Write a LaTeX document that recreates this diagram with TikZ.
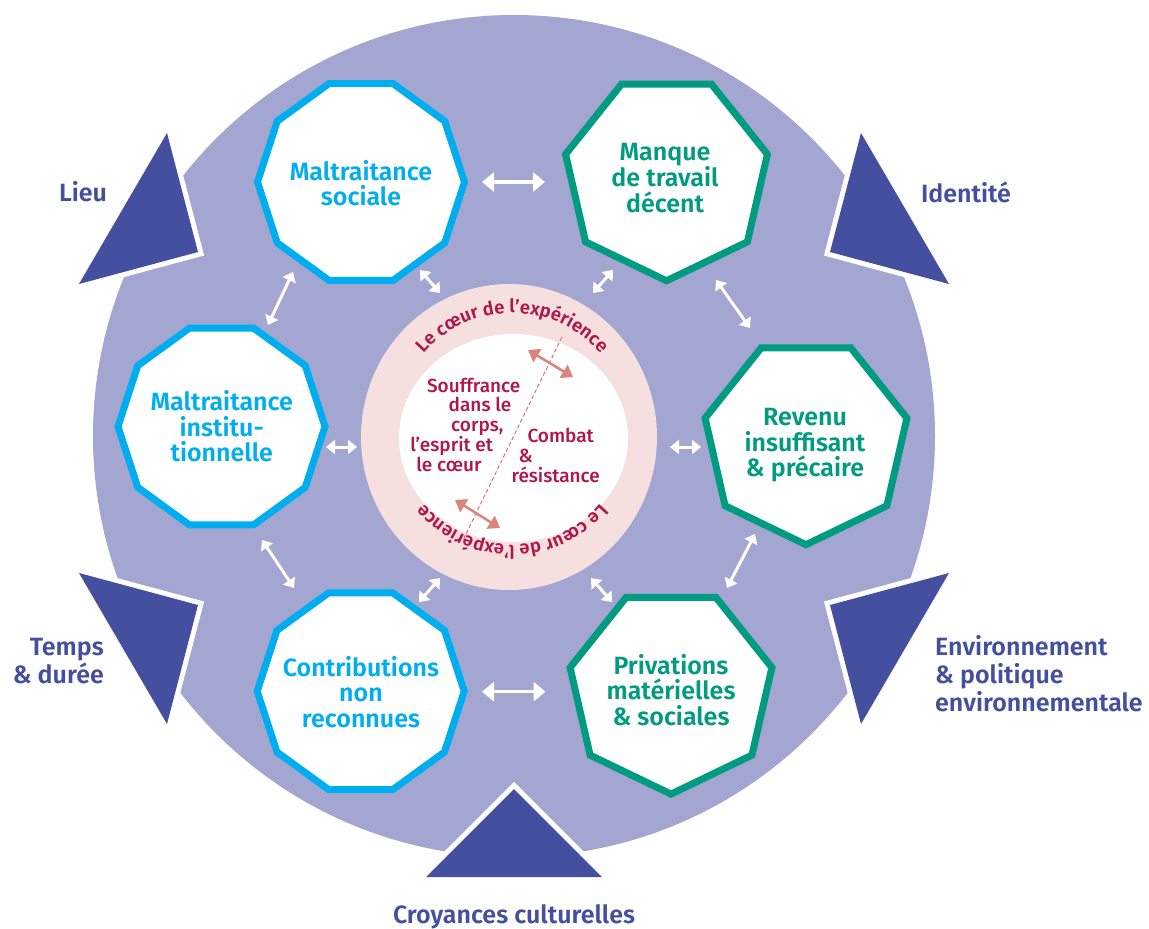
\documentclass[tikz,border=0pt]{standalone}
\usepackage{fontspec}
\setmainfont{Fira Sans}
\newfontfamily\fsb{Fira Sans SemiBold}
\newfontfamily\fmd{Fira Sans Medium}
\usetikzlibrary{calc,arrows.meta,decorations.text}
\definecolor{lav}{HTML}{A2A6D1}
\definecolor{triblue}{HTML}{444F9F}
\definecolor{cyanc}{HTML}{00AEEF}
\definecolor{greenc}{HTML}{009B80}
\definecolor{pinkring}{HTML}{F5E0DF}
\definecolor{crimson}{HTML}{B1154A}
\definecolor{salmon}{HTML}{D9857E}
\definecolor{dashc}{HTML}{D86A70}
\newcommand\mydecagon[3]{\draw[#1] ($(#2)+(0:#3)$) \foreach \k in {1,...,9}{ -- ($(#2)+(\k*36:#3)$)} -- cycle;}
\newcommand\myheptagon[3]{\draw[#1] ($(#2)+(-90:#3)$) \foreach \k in {1,...,6}{ -- ($(#2)+(-90+\k*360/7:#3)$)} -- cycle;}
\newcommand\ringfont{\fsb\fontsize{18.5}{20}\selectfont\color{crimson}}
\begin{document}
\begin{tikzpicture}[x=1pt,y=-1pt,
  bluepoly/.style={draw=cyanc, line width=7pt, fill=white, line join=miter},
  greenpoly/.style={draw=greenc, line width=7pt, fill=white, line join=miter},
  factor/.style={fill=triblue, preaction={draw=white, line width=10pt, line join=miter}},
  lbl/.style={align=center, font=\fsb\fontsize{25}{25.5}\selectfont, inner sep=0pt},
  bluelbl/.style={lbl, text=cyanc},
  greenlbl/.style={lbl, text=greenc},
  outer/.style={font=\fsb\fontsize{25}{28}\selectfont, text=triblue, inner sep=0pt},
  ctext/.style={font=\fmd\fontsize{19}{20}\selectfont, text=crimson, inner sep=0pt, anchor=base},
  warrow/.style={white, line width=3.5pt, {Triangle[length=12pt,width=19pt]}-{Triangle[length=12pt,width=19pt]}},
  wsmall/.style={white, line width=3pt, {Triangle[length=9pt,width=14pt]}-{Triangle[length=9pt,width=14pt]}},
  parrow/.style={salmon, line width=2.5pt, {Triangle[length=11pt,width=15pt]}-{Triangle[length=11pt,width=15pt]}}
]
\fill[white] (0,0) rectangle (1149,929);
\useasboundingbox (0,0) rectangle (1149,929);

% main disc
\fill[lav] (514,436) circle[radius=421pt];

% factor triangles
\fill[factor] (167,133) -- (198,252) -- (79,284) -- cycle;
\fill[factor] (861,133) -- (830,252) -- (949,284) -- cycle;
\fill[factor] (79,573) -- (198,605) -- (167,724) -- cycle;
\fill[factor] (949,573) -- (830,605) -- (861,724) -- cycle;
\fill[factor] (514,789) -- (602,877) -- (426,877) -- cycle;

% centre
\fill[pinkring] (509,437) ellipse[x radius=148pt, y radius=153pt];
\fill[white] (513.5,438) ellipse[x radius=114.5pt, y radius=104pt];
\coordinate (rc) at (512,430);
\path[decorate, decoration={text along path, text align=center,
  text={|\ringfont|Le cœur de l’expérience}}]
  (rc) ++(180:117pt) arc[start angle=180, end angle=0, radius=117pt];
\path[decorate, decoration={text along path, text align=center,
  text={|\ringfont|Le cœur de l’expérience}}]
  (rc) ++(0:115pt) arc[start angle=0, end angle=-180, radius=115pt];

\coordinate (dtop) at (562,337);
\coordinate (dbot) at (464,538);
\draw[dashc, line width=0.9pt, dash pattern=on 4pt off 2.5pt] (dtop) -- (dbot);
\coordinate (p1a) at (528,350); \coordinate (p1b) at (573,377);
\coordinate (p2a) at (455,500); \coordinate (p2b) at (500,528);
\draw[parrow] (p1a) -- (p1b);
\draw[parrow] (p2a) -- (p2b);

\node[ctext] (s1) at (473.7,392.3) {Souffrance};
\node[ctext] (s2) at (480,411.7) {dans le};
\node[ctext] (s3) at (477.3,431) {corps,};
\node[ctext] (s4) at (451.7,451) {l’esprit et};
\node[ctext] (s5) at (449,471) {le cœur};
\node[ctext] (c1) at (560.7,442.3) {Combat};
\node[ctext] (c2) at (525.7,462.3) {\&};
\node[ctext] (c3) at (555.7,482.3) {résistance};

% polygons
\coordinate (cms) at (361,182);
\coordinate (cmd) at (666.5,177.3);
\coordinate (cmi) at (221.5,426.5);
\coordinate (crv) at (806,441.2);
\coordinate (ccn) at (360.7,691.2);
\coordinate (cpv) at (671,690.6);
\mydecagon{bluepoly}{cms}{103.5pt}
\mydecagon{bluepoly}{cmi}{103.5pt}
\mydecagon{bluepoly}{ccn}{103.5pt}
\myheptagon{greenpoly}{cmd}{103.5pt}
\myheptagon{greenpoly}{crv}{103.5pt}
\myheptagon{greenpoly}{cpv}{103.5pt}

\node[bluelbl] (ms) at (361,183) {Maltraitance\\sociale};
\node[greenlbl] (md) at (665,178) {Manque\\de travail\\décent};
\node[bluelbl] (mi) at (221.7,426.3) {Maltraitance\\institu-\\tionnelle};
\node[greenlbl] (rv) at (805,445.5) {Revenu\\insuffisant\\\& précaire};
\node[bluelbl] (cn) at (361,692) {Contributions\\non\\reconnues};
\node[greenlbl] (pv) at (671,689.7) {Privations\\matérielles\\\& sociales};

% white arrows
\coordinate (h1a) at (482,182); \coordinate (h1b) at (545,182);
\coordinate (h2a) at (482,691.7); \coordinate (h2b) at (545.5,691.7);
\draw[warrow] (h1a) -- (h1b);
\draw[warrow] (h2a) -- (h2b);
\coordinate (a3a) at (420,270); \coordinate (a3b) at (440,293);
\coordinate (a4a) at (613,270); \coordinate (a4b) at (593,293);
\coordinate (a5a) at (293,272); \coordinate (a5b) at (268,325);
\coordinate (a6a) at (716,280); \coordinate (a6b) at (750,328);
\coordinate (a7a) at (326,447); \coordinate (a7b) at (357,447);
\coordinate (a8a) at (670,447); \coordinate (a8b) at (701,447);
\coordinate (a9a) at (262,540); \coordinate (a9b) at (294,588);
\coordinate (a10a) at (755,534); \coordinate (a10b) at (727,588);
\coordinate (a11a) at (419,602); \coordinate (a11b) at (440,578);
\coordinate (a12a) at (591,578); \coordinate (a12b) at (612,602);
\draw[wsmall] (a3a) -- (a3b);
\draw[wsmall] (a4a) -- (a4b);
\draw[wsmall] (a5a) -- (a5b);
\draw[wsmall] (a6a) -- (a6b);
\draw[wsmall] (a7a) -- (a7b);
\draw[wsmall] (a8a) -- (a8b);
\draw[wsmall] (a9a) -- (a9b);
\draw[wsmall] (a10a) -- (a10b);
\draw[wsmall] (a11a) -- (a11b);
\draw[wsmall] (a12a) -- (a12b);

% outer labels
\node[outer, anchor=base] (lieu) at (83,201.7) {Lieu};
\node[outer, anchor=base] (ident) at (966,202) {Identité};
\node[outer, align=right, anchor=east] (temps) at (104,661.5) {Temps\\\& durée};
\node[outer, align=left, anchor=west] (env) at (935,674) {Environnement\\\& politique\\environnementale};
\node[outer, anchor=base] (croy) at (514,923) {Croyances culturelles};
\end{tikzpicture}
\end{document}
